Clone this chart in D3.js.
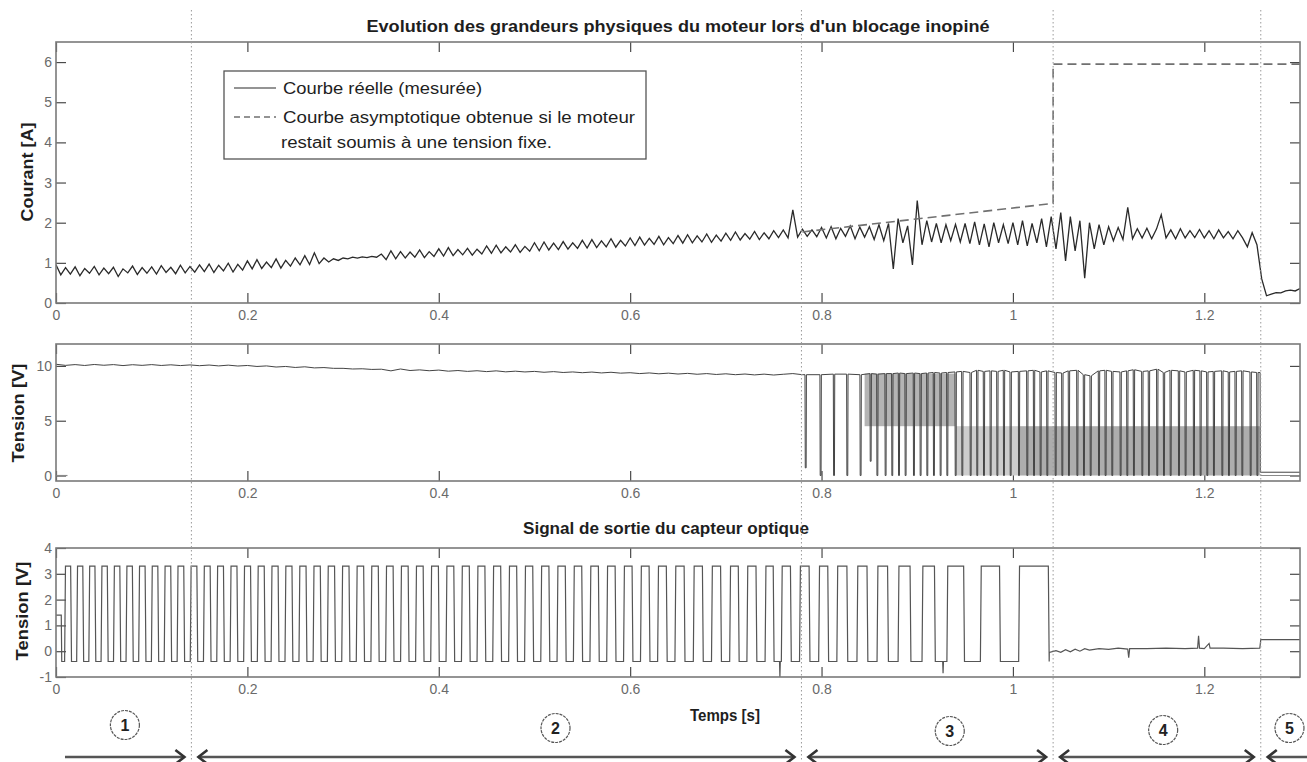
<!DOCTYPE html>
<html>
<head>
<meta charset="utf-8">
<script src="https://cdn.jsdelivr.net/npm/d3@7/dist/d3.min.js"></script>
<style>
    html, body { margin: 0; padding: 0; background: #fff; }
    svg { display: block; font-family: "Liberation Sans", Arial, sans-serif; }
</style>
</head>
<body>
<div id="chart"></div>
<script>
// ---- data ----
var timeTicks = [0, 0.2, 0.4, 0.6, 0.8, 1, 1.2];
var courantTicks = [0, 1, 2, 3, 4, 5, 6];
var tensionTicks = [0, 5, 10];
var capteurTicks = [-1, 0, 1, 2, 3, 4];

// courant mesure [A], un point toutes les 5 ms
var courantDt = 0.005;
var courant = [
    0.95, 0.70, 0.88, 0.72, 0.90, 0.68, 0.86, 0.74, 0.91, 0.70,
    0.87, 0.73, 0.89, 0.66, 0.85, 0.75, 0.92, 0.71, 0.88, 0.74,
    0.90, 0.72, 0.93, 0.76, 0.89, 0.73, 0.94, 0.75, 0.91, 0.77,
    0.95, 0.78, 0.97, 0.76, 0.94, 0.80, 0.99, 0.77, 0.96, 0.82,
    1.05, 0.85, 1.08, 0.86, 1.02, 0.88, 1.10, 0.87, 1.06, 0.92,
    1.12, 0.95, 1.18, 0.96, 1.25, 0.98, 1.12, 1.02, 1.10, 1.06,
    1.12, 1.10, 1.14, 1.12, 1.15, 1.13, 1.16, 1.14, 1.22, 1.08,
    1.30, 1.10, 1.28, 1.12, 1.27, 1.14, 1.32, 1.13, 1.28, 1.16,
    1.35, 1.17, 1.38, 1.18, 1.33, 1.20, 1.36, 1.19, 1.34, 1.22,
    1.42, 1.24, 1.44, 1.25, 1.40, 1.27, 1.45, 1.26, 1.41, 1.29,
    1.50, 1.30, 1.52, 1.32, 1.49, 1.33, 1.53, 1.34, 1.50, 1.36,
    1.56, 1.37, 1.58, 1.38, 1.55, 1.40, 1.60, 1.39, 1.56, 1.42,
    1.62, 1.43, 1.64, 1.44, 1.61, 1.46, 1.66, 1.45, 1.63, 1.48,
    1.68, 1.49, 1.70, 1.50, 1.67, 1.52, 1.72, 1.51, 1.69, 1.54,
    1.74, 1.56, 1.77, 1.57, 1.73, 1.59, 1.78, 1.58, 1.75, 1.60,
    1.80, 1.63, 1.82, 1.62, 2.32, 1.64, 1.84, 1.66, 1.82, 1.65,
    1.88, 1.62, 1.90, 1.60, 1.86, 1.66, 1.92, 1.60, 1.89, 1.64,
    1.90, 1.58, 1.95, 1.55, 1.98, 0.85, 2.10, 1.50, 1.92, 0.95,
    2.55, 1.45, 2.05, 1.52, 1.98, 1.50, 1.95, 1.55, 1.96, 1.52,
    1.98, 1.48, 2.02, 1.45, 1.97, 1.40, 2.00, 1.50, 1.95, 1.48,
    2.00, 1.45, 2.05, 1.42, 1.98, 1.50, 2.10, 1.40, 2.15, 1.35,
    2.25, 1.05, 2.15, 1.30, 2.05, 0.62, 2.00, 1.35, 1.95, 1.45,
    1.90, 1.55, 1.88, 1.58, 2.38, 1.60, 1.85, 1.62, 1.86, 1.60,
    1.84, 2.20, 1.62, 1.82, 1.60, 1.85, 1.62, 1.80, 1.63, 1.83,
    1.62, 1.80, 1.60, 1.82, 1.62, 1.78, 1.60, 1.80, 1.62, 1.40,
    1.75, 1.45, 0.60, 0.18, 0.22, 0.26, 0.25, 0.30, 0.32, 0.30,
    0.36
];

// courbe asymptotique (tension fixe)
var asymT = [0.78, 1.042, 1.042, 1.3];
var asymV = [1.77, 2.48, 5.95, 5.95];

// tension moteur [V] avant le hachage, un point toutes les 10 ms
var tensionDt = 0.01;
var tension = [
    10.15, 10.05, 10.12, 10.04, 10.13, 10.06, 10.12, 10.03, 10.11, 10.05,
    10.12, 10.04, 10.10, 10.03, 10.09, 10.02, 10.08, 10.00, 10.07, 9.99,
    10.04, 9.95, 10.00, 9.90, 9.95, 9.86, 9.92, 9.82, 9.85, 9.78,
    9.78, 9.72, 9.74, 9.68, 9.70, 9.55, 9.72, 9.58, 9.64, 9.56,
    9.62, 9.52, 9.58, 9.50, 9.56, 9.48, 9.55, 9.46, 9.52, 9.45,
    9.50, 9.42, 9.48, 9.40, 9.45, 9.38, 9.44, 9.36, 9.42, 9.34,
    9.38, 9.30, 9.36, 9.28, 9.34, 9.26, 9.32, 9.24, 9.30, 9.22,
    9.28, 9.20, 9.26, 9.18, 9.25, 9.17, 9.24, 9.30, 9.20
];

// impulsions de hachage (instant, niveau haut, niveau bas)
var pulseT = [
    0.7827, 0.7983, 0.8123, 0.8262, 0.8401, 0.8506, 0.8576, 0.8662, 0.8732, 0.8802,
    0.8871, 0.8958, 0.9028, 0.9098, 0.9167, 0.9237, 0.9307, 0.9394, 0.9464, 0.9551,
    0.9620, 0.9690, 0.9760, 0.9830, 0.9899, 0.9969, 1.0056, 1.0143, 1.0213, 1.0282,
    1.0352, 1.0439, 1.0509, 1.0578, 1.0666, 1.0735, 1.0805, 1.0892, 1.0961, 1.1031,
    1.1118, 1.1188, 1.1257, 1.1345, 1.1414, 1.1501, 1.1571, 1.1641, 1.1728, 1.1797,
    1.1884, 1.1954, 1.2024, 1.2093, 1.2181, 1.2250, 1.2320, 1.2390, 1.2477, 1.2547
];
var pulseTop = [
    9.2, 9.2, 9.25, 9.25, 9.2, 9.3, 9.25, 9.3, 9.3, 9.35,
    9.3, 9.35, 9.3, 9.35, 9.4, 9.35, 9.4, 9.45, 9.5, 9.4,
    9.6, 9.5, 9.55, 9.5, 9.6, 9.45, 9.5, 9.55, 9.6, 9.45,
    9.55, 9.4, 9.35, 9.55, 9.6, 9.2, 9.1, 9.55, 9.6, 9.5,
    9.45, 9.55, 9.65, 9.5, 9.55, 9.7, 9.4, 9.6, 9.55, 9.45,
    9.6, 9.55, 9.45, 9.5, 9.55, 9.45, 9.5, 9.55, 9.45, 9.4
];
var pulseLow = [
    0.7, 0, 0, 0, 0, 1.3, 0, 0, 0, 0,
    0, 0, 0, 0, 0, 0, 0, 0, 0, 0,
    0, 0, 0, 0, 0, 0, 0, 0, 0, 0,
    0, 0, 0, 0, 0, 0, 0, 0, 0, 0,
    0, 0, 0, 0, 0, 0, 0, 0, 0, 0,
    0, 0, 0, 0, 0, 0, 0, 0, 0, 0
];
var tensionEnd = [[1.2585, 0.3], [1.3, 0.3]];
var tensionRef = [[[0, 0], [0.012, 0]], [[1.2585, 0], [1.3, 0]]];
// zones densement remplies par le hachage [debut, fin, bas, haut]
var pwmBands = [
    [0.845, 0.94, 4.5, 9.3],
    [0.94, 1.005, 0, 4.5],
    [1.005, 1.258, 0, 4.5]
];

// capteur optique : fronts montants / descendants [s]
var opticHigh = 3.3, opticLow = -0.4;
var opticStart = [[0, 1.4], [0.0055, 1.4], [0.006, -0.4]];
var rises = [
    0.009, 0.0216, 0.0343, 0.0471, 0.0601, 0.0732, 0.0864, 0.0997, 0.1131, 0.1266,
    0.1403, 0.1541, 0.168, 0.182, 0.1961, 0.2104, 0.2248, 0.2393, 0.2539, 0.2687,
    0.2836, 0.2986, 0.3138, 0.3291, 0.3445, 0.3601, 0.3758, 0.3916, 0.4076, 0.4237,
    0.44, 0.4564, 0.473, 0.4897, 0.5066, 0.5236, 0.5407, 0.558, 0.5755, 0.5931,
    0.6108, 0.6287, 0.6468, 0.666, 0.685, 0.704, 0.722, 0.741, 0.758, 0.777,
    0.797, 0.816, 0.837, 0.858, 0.880, 0.905, 0.931, 0.966, 1.006
];
var falls = [
    0.0153, 0.028, 0.0407, 0.0536, 0.0667, 0.0798, 0.0931, 0.1064, 0.1199, 0.1335,
    0.1472, 0.1611, 0.175, 0.1891, 0.2033, 0.2176, 0.2321, 0.2466, 0.2613, 0.2762,
    0.2911, 0.3062, 0.3215, 0.3368, 0.3523, 0.368, 0.3837, 0.3996, 0.4157, 0.4319,
    0.4482, 0.4647, 0.4814, 0.4982, 0.5151, 0.5322, 0.5494, 0.5668, 0.5843, 0.602,
    0.6198, 0.6378, 0.6564, 0.6755, 0.6945, 0.713, 0.7315, 0.7495, 0.7675, 0.787,
    0.8065, 0.8265, 0.8475, 0.869, 0.8925, 0.918, 0.9485, 0.986, 1.037
];
var opticSpikes = [[0.7565, -1.0], [0.927, -0.85]];
var opticTail = [
    [1.038, -0.05], [1.045, 0.02], [1.05, -0.04], [1.055, 0.06], [1.06, -0.02],
    [1.065, 0.08], [1.07, 0.0], [1.075, 0.1], [1.08, 0.04], [1.09, 0.1],
    [1.1, 0.07], [1.11, 0.12], [1.12, 0.08], [1.121, -0.25], [1.122, 0.1],
    [1.14, 0.1], [1.16, 0.12], [1.18, 0.1], [1.193, 0.12], [1.194, 0.6],
    [1.195, 0.12], [1.2, 0.1], [1.205, 0.3], [1.206, 0.12], [1.22, 0.12],
    [1.24, 0.1], [1.258, 0.12], [1.259, 0.45], [1.3, 0.45]
];

// phases du blocage
var phaseBounds = [0.1415, 0.779, 1.042, 1.259];
var phaseNames = ["1", "2", "3", "4", "5"];
var phaseMarkT = [0.072, 0.522, 0.934, 1.157, 1.289];

// ---- drawing ----
var width = 1307, height = 762;
var left = 56, right = 1300;

var svg = d3.select("#chart").append("svg")
    .attr("width", width)
    .attr("height", height);
svg.append("rect").attr("width", width).attr("height", height).attr("fill", "#fff");

var x = d3.scaleLinear().domain([0, 1.3]).range([left, right]);
var fmt = function(d) { return String(+d.toFixed(2)); };

function panel(name, y, yTicks) {
    var top = y.range()[1], bottom = y.range()[0];
    var g = svg.append("g").attr("class", "panel-" + name);

    g.append("clipPath").attr("id", "clip-" + name)
        .append("rect")
        .attr("x", left).attr("y", top)
        .attr("width", right - left).attr("height", bottom - top);

    var axes = [
        [d3.axisBottom(x).tickValues(timeTicks).tickFormat(fmt).tickPadding(7), "translate(0," + bottom + ")"],
        [d3.axisTop(x).tickValues(timeTicks).tickFormat(""), "translate(0," + top + ")"],
        [d3.axisLeft(y).tickValues(yTicks).tickFormat(fmt).tickPadding(4), "translate(" + left + ",0)"],
        [d3.axisRight(y).tickValues(yTicks).tickFormat(""), "translate(" + right + ",0)"]
    ];
    axes.forEach(function(a) {
        var ax = g.append("g")
            .attr("transform", a[1])
            .call(a[0].tickSizeInner(-10).tickSizeOuter(0));
        ax.select(".domain").remove();
        ax.selectAll("line").attr("stroke", "#4a4a4a").attr("stroke-width", 1.2);
        ax.selectAll("text")
            .attr("fill", "#6a6a6a")
            .attr("font-size", "14px")
            .attr("font-family", "Liberation Sans, Arial, sans-serif");
    });

    var plot = g.append("g").attr("clip-path", "url(#clip-" + name + ")");

    g.append("rect")
        .attr("x", left).attr("y", top)
        .attr("width", right - left).attr("height", bottom - top)
        .attr("fill", "none")
        .attr("stroke", "#7a7a7a")
        .attr("stroke-width", 1.6);
    return plot;
}

// -- courant --
var yA = d3.scaleLinear().domain([0, 6.5]).range([303, 42]);
var pA = panel("courant", yA, courantTicks);

pA.append("path")
    .datum(courant)
    .attr("fill", "none")
    .attr("stroke", "#2a2a2a")
    .attr("stroke-width", 1.3)
    .attr("d", d3.line()
        .x(function(d, i) { return x(i * courantDt); })
        .y(function(d) { return yA(d); }));

pA.append("path")
    .datum(asymT.map(function(t, i) { return [t, asymV[i]]; }))
    .attr("fill", "none")
    .attr("stroke", "#707070")
    .attr("stroke-width", 1.6)
    .attr("stroke-dasharray", "9,5")
    .attr("d", d3.line()
        .x(function(d) { return x(d[0]); })
        .y(function(d) { return yA(d[1]); }));

// legende
var leg = svg.append("g");
leg.append("rect")
    .attr("x", 224).attr("y", 71)
    .attr("width", 422).attr("height", 88)
    .attr("fill", "#fff")
    .attr("stroke", "#555")
    .attr("stroke-width", 1.3);
leg.append("line")
    .attr("x1", 234).attr("x2", 276).attr("y1", 88).attr("y2", 88)
    .attr("stroke", "#2a2a2a").attr("stroke-width", 1.2);
leg.append("line")
    .attr("x1", 234).attr("x2", 276).attr("y1", 117).attr("y2", 117)
    .attr("stroke", "#707070").attr("stroke-width", 1.4)
    .attr("stroke-dasharray", "6,4");
[["Courbe réelle (mesurée)", 94, 199],
 ["Courbe asymptotique obtenue si le moteur", 123, 352],
 ["restait soumis à une tension fixe.", 148, 271]].forEach(function(l, i) {
    leg.append("text")
        .attr("x", i == 2 ? 281 : 283)
        .attr("y", l[1])
        .attr("font-size", "16px")
        .attr("fill", "#1e1e1e")
        .attr("textLength", l[2])
        .attr("lengthAdjust", "spacingAndGlyphs")
        .text(l[0]);
});

// -- tension --
var yV = d3.scaleLinear().domain([-0.5, 12]).range([481, 344]);
var pV = panel("tension", yV, tensionTicks);

var bandFill = ["#b4b4b4", "#cdcdcd", "#adadad"];
pwmBands.forEach(function(b, i) {
    pV.append("rect")
        .attr("x", x(b[0]))
        .attr("width", x(b[1]) - x(b[0]))
        .attr("y", yV(b[3]))
        .attr("height", yV(b[2]) - yV(b[3]))
        .attr("fill", bandFill[i]);
});

var tensionPts = tension.map(function(v, i) { return [i * tensionDt, v]; });
pulseT.forEach(function(t, i) {
    tensionPts.push([t, pulseTop[i]]);
    tensionPts.push([t + 0.0003, pulseLow[i]]);
    tensionPts.push([t + 0.0012, pulseLow[i]]);
    tensionPts.push([t + 0.0015, pulseTop[i]]);
});
tensionPts.push([1.2583, 9.4]);
tensionEnd.forEach(function(p) { tensionPts.push(p); });

var lineV = d3.line()
    .x(function(d) { return x(d[0]); })
    .y(function(d) { return yV(d[1]); });

tensionRef.forEach(function(seg) {
    pV.append("path").datum(seg)
        .attr("fill", "none").attr("stroke", "#8a8a8a").attr("stroke-width", 1.2)
        .attr("d", lineV);
});
pV.append("path")
    .datum(tensionPts)
    .attr("fill", "none")
    .attr("stroke", "#444")
    .attr("stroke-width", 1)
    .attr("d", lineV);

// -- capteur optique --
var yC = d3.scaleLinear().domain([-1, 4]).range([677, 548]);
var pC = panel("capteur", yC, capteurTicks);

var opticPts = opticStart.slice();
var edge = 0.0009;
rises.forEach(function(r, i) {
    opticPts.push([r, opticLow]);
    opticPts.push([r + edge, opticHigh]);
    opticPts.push([falls[i], opticHigh]);
    opticPts.push([falls[i] + edge, opticLow]);
    var next = i + 1 < rises.length ? rises[i + 1] : 2;
    opticSpikes.forEach(function(s) {
        if (s[0] > falls[i] && s[0] < next) {
            opticPts.push([s[0] - 0.0004, opticLow]);
            opticPts.push([s[0], s[1]]);
            opticPts.push([s[0] + 0.0004, opticLow]);
        }
    });
});
opticTail.forEach(function(p) { opticPts.push(p); });

pC.append("path")
    .datum(opticPts)
    .attr("fill", "none")
    .attr("stroke", "#555")
    .attr("stroke-width", 1.2)
    .attr("d", d3.line()
        .x(function(d) { return x(d[0]); })
        .y(function(d) { return yC(d[1]); }));

// -- titres --
svg.append("text")
    .attr("x", 678).attr("y", 32)
    .attr("text-anchor", "middle")
    .attr("font-size", "16px").attr("font-weight", "bold")
    .attr("fill", "#1e1e1e")
    .attr("textLength", 623).attr("lengthAdjust", "spacingAndGlyphs")
    .text("Evolution des grandeurs physiques du moteur lors d'un blocage inopiné");

svg.append("text")
    .attr("x", 666).attr("y", 534)
    .attr("text-anchor", "middle")
    .attr("font-size", "16px").attr("font-weight", "bold")
    .attr("fill", "#1e1e1e")
    .attr("textLength", 286).attr("lengthAdjust", "spacingAndGlyphs")
    .text("Signal de sortie du capteur optique");

svg.append("text")
    .attr("x", 725).attr("y", 721)
    .attr("text-anchor", "middle")
    .attr("font-size", "16px").attr("font-weight", "bold")
    .attr("fill", "#1e1e1e")
    .attr("textLength", 70).attr("lengthAdjust", "spacingAndGlyphs")
    .text("Temps [s]");

[["Courant [A]", 27, 172], ["Tension [V]", 18, 413], ["Tension [V]", 22, 611]].forEach(function(l) {
    svg.append("text")
        .attr("transform", "translate(" + l[1] + "," + l[2] + ") rotate(-90)")
        .attr("text-anchor", "middle")
        .attr("dy", "0.35em")
        .attr("font-size", "17px").attr("font-weight", "bold")
        .attr("fill", "#1e1e1e")
        .attr("textLength", 99).attr("lengthAdjust", "spacingAndGlyphs")
        .text(l[0]);
});

// -- separations des phases --
svg.selectAll(".phase")
    .data(phaseBounds)
    .enter().append("line")
    .attr("class", "phase")
    .attr("x1", function(d) { return x(d); })
    .attr("x2", function(d) { return x(d); })
    .attr("y1", 10).attr("y2", height)
    .attr("stroke", "#9a9a9a")
    .attr("stroke-width", 1)
    .attr("stroke-dasharray", "1.5,2.5");

// numeros entoures
var markY = [725, 728, 731, 730, 728];
var marks = svg.selectAll(".mark")
    .data(phaseNames)
    .enter().append("g")
    .attr("class", "mark")
    .attr("transform", function(d, i) { return "translate(" + x(phaseMarkT[i]) + "," + markY[i] + ")"; });
marks.append("circle")
    .attr("r", 14.5)
    .attr("fill", "#fff")
    .attr("stroke", "#555")
    .attr("stroke-width", 1.2)
    .attr("stroke-dasharray", "3,1");
marks.append("text")
    .attr("text-anchor", "middle")
    .attr("dy", "0.36em")
    .attr("font-size", "16px").attr("font-weight", "bold")
    .attr("fill", "#222")
    .text(function(d) { return d; });

// fleches
var arrowY = 757, gap = 7;
var ends = [x(0.0094)].concat(phaseBounds.map(x)).concat([width + 20]);
for (var k = 0; k < 5; k++) {
    var a = k == 0 ? ends[0] : ends[k] + gap;
    var b = k == 4 ? ends[5] : ends[k + 1] - gap;
    svg.append("line")
        .attr("x1", a).attr("x2", b).attr("y1", arrowY).attr("y2", arrowY)
        .attr("stroke", "#555").attr("stroke-width", 2.6);
    if (k > 0) {
        svg.append("path")
            .attr("d", "M" + (a + 9) + "," + (arrowY - 7) + "L" + a + "," + arrowY + "L" + (a + 9) + "," + (arrowY + 7))
            .attr("fill", "none").attr("stroke", "#333").attr("stroke-width", 2.6);
    }
    if (k < 4) {
        svg.append("path")
            .attr("d", "M" + (b - 9) + "," + (arrowY - 7) + "L" + b + "," + arrowY + "L" + (b - 9) + "," + (arrowY + 7))
            .attr("fill", "none").attr("stroke", "#333").attr("stroke-width", 2.6);
    }
}
</script>
</body>
</html>
